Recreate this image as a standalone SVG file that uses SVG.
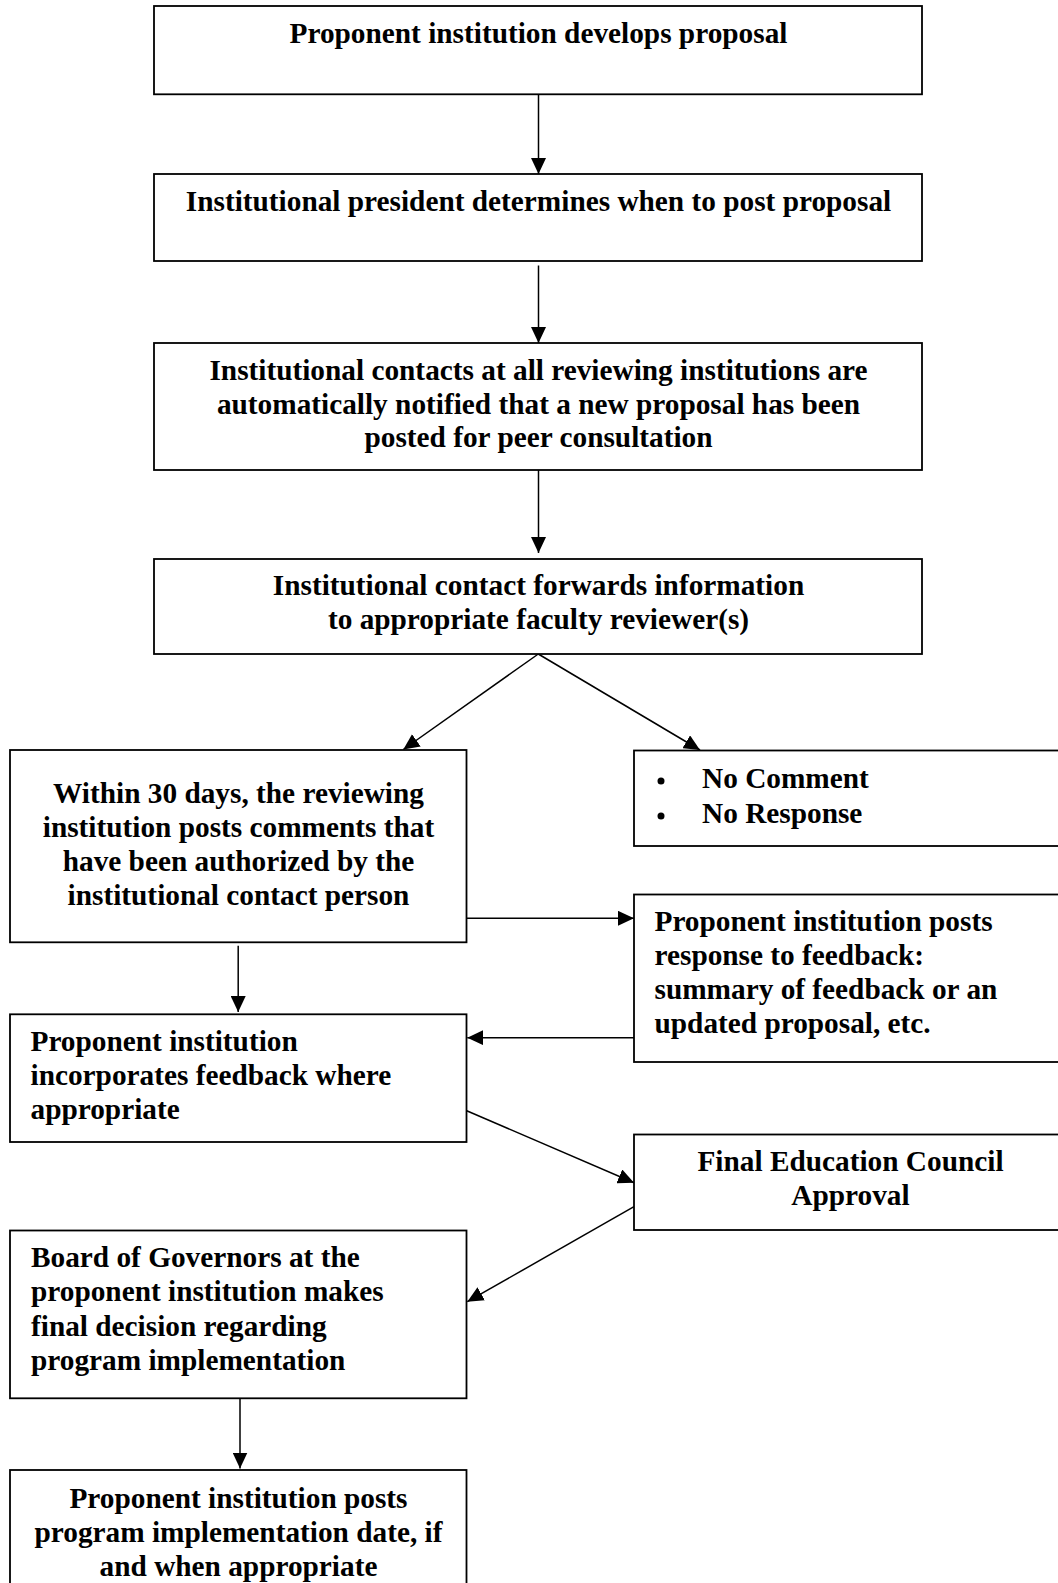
<svg xmlns="http://www.w3.org/2000/svg" width="1058" height="1583" viewBox="0 0 1058 1583">
<defs>
<marker id="arr" markerUnits="userSpaceOnUse" markerWidth="16" markerHeight="15" refX="16" refY="7.5" orient="auto">
<path d="M0,0 L16,7.5 L0,15 Z" fill="#000"/>
</marker>
<style>
.box{fill:#fff;stroke:#000;stroke-width:1.8}
.t{font-family:"Liberation Serif","Times New Roman",serif;font-weight:bold;font-size:29.3px;fill:#000}
.c{text-anchor:middle}
.ln{stroke:#000;stroke-width:1.5;fill:none;marker-end:url(#arr)}
</style>
</defs>
<rect width="1058" height="1583" fill="#fff"/>
<g id="connectors">
<line class="ln" x1="538.5" y1="94" x2="538.5" y2="174"/>
<line class="ln" x1="538.5" y1="265.5" x2="538.5" y2="343"/>
<line class="ln" x1="538.5" y1="470" x2="538.5" y2="553"/>
<line class="ln" x1="538.3" y1="654" x2="403.3" y2="749.5"/>
<line class="ln" x1="538.3" y1="654" x2="700" y2="750"/>
<line class="ln" x1="466.5" y1="918.3" x2="634" y2="918.3"/>
<line class="ln" x1="238.2" y1="945.7" x2="238.2" y2="1012"/>
<line class="ln" x1="634" y1="1037.7" x2="467.3" y2="1037.7"/>
<line class="ln" x1="466.7" y1="1110.7" x2="634" y2="1182.7"/>
<line class="ln" x1="634" y1="1206.7" x2="467.3" y2="1301.7"/>
<line class="ln" x1="240" y1="1398.3" x2="240" y2="1468.5"/>
</g>
<g id="n1">
<rect class="box" x="154" y="6" width="768" height="88.3"/>
<text class="t c" x="538.5" y="43.3">Proponent institution develops proposal</text>
</g>
<g id="n2">
<rect class="box" x="154" y="174" width="768" height="87"/>
<text class="t c" x="538.5" y="211">Institutional president determines when to post proposal</text>
</g>
<g id="n3">
<rect class="box" x="154" y="343" width="768" height="127"/>
<text class="t c" x="538.5" y="380"><tspan x="538.5">Institutional contacts at all reviewing institutions are</tspan><tspan x="538.5" dy="33.7">automatically notified that a new proposal has been</tspan><tspan x="538.5" dy="33.7">posted for peer consultation</tspan></text>
</g>
<g id="n4">
<rect class="box" x="154" y="559" width="768" height="95"/>
<text class="t c" x="538.5" y="595"><tspan x="538.5">Institutional contact forwards information</tspan><tspan x="538.5" dy="34">to appropriate faculty reviewer(s)</tspan></text>
</g>
<g id="n5">
<rect class="box" x="10" y="750" width="456.5" height="192.3"/>
<text class="t c" x="238.5" y="803"><tspan x="238.5">Within 30 days, the reviewing</tspan><tspan x="238.5" dy="34">institution posts comments that</tspan><tspan x="238.5" dy="34">have been authorized by the</tspan><tspan x="238.5" dy="34">institutional contact person</tspan></text>
</g>
<g id="n6">
<rect class="box" x="634" y="750.5" width="440" height="95.5"/>
<circle cx="661" cy="781" r="3.5" fill="#000"/>
<circle cx="661" cy="816" r="3.5" fill="#000"/>
<text class="t" x="702" y="788"><tspan x="702">No Comment</tspan><tspan x="702" dy="34.7">No Response</tspan></text>
</g>
<g id="n7">
<rect class="box" x="634" y="894.5" width="440" height="167.5"/>
<text class="t" x="654.5" y="930.7"><tspan x="654.5">Proponent institution posts</tspan><tspan x="654.5" dy="34.2">response to feedback:</tspan><tspan x="654.5" dy="34.2">summary of feedback or an</tspan><tspan x="654.5" dy="34.2">updated proposal, etc.</tspan></text>
</g>
<g id="n8">
<rect class="box" x="10" y="1014.3" width="456.5" height="127.7"/>
<text class="t" x="30.5" y="1050.7"><tspan x="30.5">Proponent institution</tspan><tspan x="30.5" dy="34.2">incorporates feedback where</tspan><tspan x="30.5" dy="34.2">appropriate</tspan></text>
</g>
<g id="n9">
<rect class="box" x="634" y="1134.5" width="440" height="95.5"/>
<text class="t c" x="850.5" y="1170.5"><tspan x="850.5">Final Education Council</tspan><tspan x="850.5" dy="34">Approval</tspan></text>
</g>
<g id="n10">
<rect class="box" x="10" y="1230.5" width="456.5" height="167.8"/>
<text class="t" x="31" y="1266.7"><tspan x="31">Board of Governors at the</tspan><tspan x="31" dy="34.4">proponent institution makes</tspan><tspan x="31" dy="34.4">final decision regarding</tspan><tspan x="31" dy="34.4">program implementation</tspan></text>
</g>
<g id="n11">
<rect class="box" x="10" y="1470" width="456.5" height="130"/>
<text class="t c" x="238.5" y="1508"><tspan x="238.5">Proponent institution posts</tspan><tspan x="238.5" dy="34">program implementation date, if</tspan><tspan x="238.5" dy="34">and when appropriate</tspan></text>
</g>
</svg>
